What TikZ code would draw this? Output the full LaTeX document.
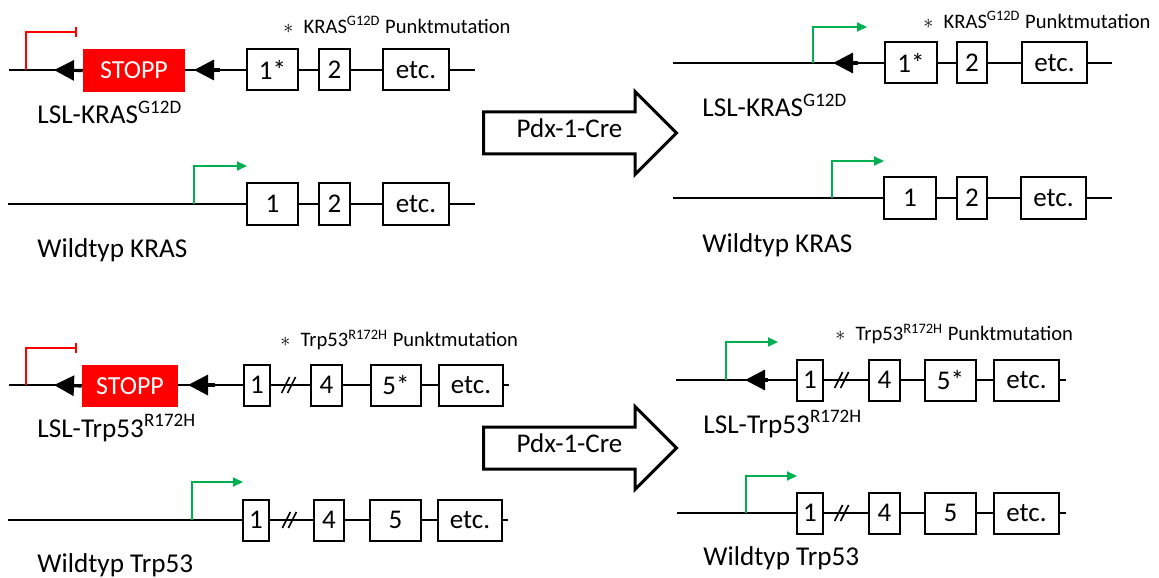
\documentclass[tikz,border=0pt]{standalone}
\usepackage{fontspec}
\setmainfont{Carlito}
\usepackage{xcolor}
\definecolor{stoppred}{HTML}{FF0000}
\definecolor{promgreen}{HTML}{00B050}
\definecolor{dnacolor}{HTML}{000000}
\usepackage{tikz}
\usetikzlibrary{positioning,arrows.meta,shapes.arrows,calc}
\tikzset{
    exon/.style={
        rectangle,
        draw=black,
        fill=white,
        minimum height=20.5pt,
        inner sep=0pt,
        line width=1pt,
        font=\fontsize{13.5}{16}\selectfont,
    },
    stoppbox/.style={
        rectangle,
        fill=stoppred,
        text=white,
        minimum height=21.5pt,
        inner sep=0pt,
        font=\fontsize{13}{15}\selectfont,
    },
    dna/.style={
        line width=1pt,
        dnacolor,
    },
    loxp/.style={
        -{Triangle[length=10pt,width=10pt]},
        line width=1.6pt,
        dnacolor,
    },
    promoter/.style={
        -{Triangle[length=5pt,width=4.5pt]},
        line width=1pt,
        promgreen,
    },
    blocked/.style={
        -{Bar[width=5pt]},
        line width=0.8pt,
        stoppred,
    },
    brk/.style={
        line width=0.8pt,
        dnacolor,
    },
    genelabel/.style={
        anchor=base west,
        inner sep=0pt,
        font=\fontsize{13.6}{16}\selectfont,
    },
    note/.style={
        anchor=west,
        inner sep=0pt,
        font=\fontsize{10.3}{12}\selectfont,
    },
    crearrow/.style={
        single arrow,
        draw=black,
        fill=white,
        line width=1.5pt,
        anchor=tail,
        minimum height=96.5pt,
        single arrow head extend=10.25pt,
        single arrow tip angle=90,
        text height=7pt,
        text depth=2.5pt,
        inner ysep=5pt,
        font=\fontsize{13.5}{16}\selectfont,
    },
}

\begin{document}
\begin{tikzpicture}[x=0.5pt, y=-0.5pt]
    \useasboundingbox (0,0) rectangle (1159,577);

    % LSL-KRAS, vor Cre
    \coordinate (lk0) at (9,70);
    \coordinate (lk9) at (475,70);
    \coordinate (lkprom) at (26,70);
    \coordinate (lkpromend) at (77,32);
    \coordinate (lkloxa) at (54,70);
    \coordinate (lkloxb0) at (220,70);
    \coordinate (lkloxb) at (194,70);
    \draw[dna] (lk0) -- (lk9);
    \draw[blocked] (lkprom) |- (lkpromend);
    \node[stoppbox, minimum width=51pt] (lkstopp) at (134,70.5) {STOPP};
    \draw[loxp] (lkstopp.west) -- (lkloxa);
    \draw[loxp] (lkloxb0) -- (lkloxb);
    \node[exon, minimum width=25.5pt] (lk1) at (272.5,70) {1*};
    \node[exon, minimum width=15.5pt, right=9.5pt of lk1] (lk2) {2};
    \node[exon, minimum width=33pt, right=15.5pt of lk2] (lk3) {etc.};
    \node[note] (lknote) at (283,25) {$\ast$\hspace{0.5em}KRAS\textsuperscript{G12D} Punktmutation};
    \node[genelabel] (lklabel) at (37,124) {LSL-KRAS\textsuperscript{G12D}};

    % Wildtyp KRAS, vor Cre
    \coordinate (wk0) at (8,204);
    \coordinate (wk9) at (475,204);
    \coordinate (wkprom) at (194,204);
    \coordinate (wkpromend) at (247,166);
    \draw[dna] (wk0) -- (wk9);
    \draw[promoter] (wkprom) |- (wkpromend);
    \node[exon, minimum width=25.5pt] (wk1) at (272.5,204) {1};
    \node[exon, minimum width=15.5pt, right=9.5pt of wk1] (wk2) {2};
    \node[exon, minimum width=33pt, right=15.5pt of wk2] (wk3) {etc.};
    \node[genelabel] (wklabel) at (37,257) {Wildtyp KRAS};

    % Cre
    \node[crearrow] (creoben) at (482,133) {Pdx-1-Cre};
    \node[crearrow] (creunten) at (482,448) {Pdx-1-Cre};

    % LSL-KRAS, nach Cre
    \coordinate (rk0) at (673,63);
    \coordinate (rk9) at (1112,63);
    \coordinate (rkprom) at (813,63);
    \coordinate (rkpromend) at (867,27);
    \coordinate (rklox0) at (858,63);
    \coordinate (rklox) at (833,63);
    \draw[dna] (rk0) -- (rk9);
    \draw[promoter] (rkprom) |- (rkpromend);
    \draw[loxp] (rklox0) -- (rklox);
    \node[exon, minimum width=26pt] (rk1) at (911,63) {1*};
    \node[exon, minimum width=15pt, right=9pt of rk1] (rk2) {2};
    \node[exon, minimum width=32.5pt, right=16.5pt of rk2] (rk3) {etc.};
    \node[note] (rknote) at (923,20) {$\ast$\hspace{0.5em}KRAS\textsuperscript{G12D} Punktmutation};
    \node[genelabel] (rklabel) at (702,117) {LSL-KRAS\textsuperscript{G12D}};

    % Wildtyp KRAS, nach Cre
    \coordinate (rwk0) at (673,198);
    \coordinate (rwk9) at (1112,198);
    \coordinate (rwkprom) at (832,198);
    \coordinate (rwkpromend) at (884,161);
    \draw[dna] (rwk0) -- (rwk9);
    \draw[promoter] (rwkprom) |- (rwkpromend);
    \node[exon, minimum width=26pt] (rwk1) at (910,198) {1};
    \node[exon, minimum width=15pt, right=9.5pt of rwk1] (rwk2) {2};
    \node[exon, minimum width=32.5pt, right=16pt of rwk2] (rwk3) {etc.};
    \node[genelabel] (rwklabel) at (702,252) {Wildtyp KRAS};

    % LSL-Trp53, vor Cre
    \coordinate (lt0) at (9,385);
    \coordinate (lt9) at (509,385);
    \coordinate (ltprom) at (26,385);
    \coordinate (ltpromend) at (77,348);
    \coordinate (ltloxa) at (54,385);
    \coordinate (ltloxb0) at (215,385);
    \coordinate (ltloxb) at (188,385);
    \draw[dna] (lt0) -- (lt9);
    \draw[blocked] (ltprom) |- (ltpromend);
    \node[stoppbox, minimum width=48pt, minimum height=21pt] (ltstopp) at (130,386) {STOPP};
    \draw[loxp] (ltstopp.west) -- (ltloxa);
    \draw[loxp] (ltloxb0) -- (ltloxb);
    \node[exon, minimum width=13pt] (lt1) at (257,385) {1};
    \node[exon, minimum width=15.5pt, right=19.5pt of lt1] (lt4) {4};
    \node[exon, minimum width=25pt, right=13.5pt of lt4] (lt5) {5*};
    \node[exon, minimum width=32pt, right=8pt of lt5] (lt6) {etc.};
    \coordinate (ltbrk) at ($(lt1.east)!0.45!(lt4.west)$);
    \draw[brk] ($(ltbrk)+(-7,8)$) -- ++(8,-16) ($(ltbrk)+(-1,8)$) -- ++(8,-16);
    \node[note] (ltnote) at (280,340) {$\ast$\hspace{0.5em}Trp53\textsuperscript{R172H} Punktmutation};
    \node[genelabel] (ltlabel) at (37,437) {LSL-Trp53\textsuperscript{R172H}};

    % Wildtyp Trp53, vor Cre
    \coordinate (wt0) at (8,520);
    \coordinate (wt9) at (508,520);
    \coordinate (wtprom) at (192,520);
    \coordinate (wtpromend) at (243,482);
    \draw[dna] (wt0) -- (wt9);
    \draw[promoter] (wtprom) |- (wtpromend);
    \node[exon, minimum width=13pt] (wt1) at (256,520) {1};
    \node[exon, minimum width=15pt, right=21.5pt of wt1] (wt4) {4};
    \node[exon, minimum width=25.5pt, right=12pt of wt4] (wt5) {5};
    \node[exon, minimum width=32pt, right=7.5pt of wt5] (wt6) {etc.};
    \coordinate (wtbrk) at ($(wt1.east)!0.45!(wt4.west)$);
    \draw[brk] ($(wtbrk)+(-7,8)$) -- ++(8,-16) ($(wtbrk)+(-1,8)$) -- ++(8,-16);
    \node[genelabel] (wtlabel) at (37,572) {Wildtyp Trp53};

    % LSL-Trp53, nach Cre
    \coordinate (rt0) at (676,380);
    \coordinate (rt9) at (1066,380);
    \coordinate (rtprom) at (726,380);
    \coordinate (rtpromend) at (778,342);
    \coordinate (rtlox0) at (768,380);
    \coordinate (rtlox) at (745,380);
    \draw[dna] (rt0) -- (rt9);
    \draw[promoter] (rtprom) |- (rtpromend);
    \draw[loxp] (rtlox0) -- (rtlox);
    \node[exon, minimum width=13pt] (rt1) at (810,380) {1};
    \node[exon, minimum width=15.5pt, right=22pt of rt1] (rt4) {4};
    \node[exon, minimum width=25.5pt, right=11.5pt of rt4] (rt5) {5*};
    \node[exon, minimum width=32.5pt, right=8pt of rt5] (rt6) {etc.};
    \coordinate (rtbrk) at ($(rt1.east)!0.4!(rt4.west)$);
    \draw[brk] ($(rtbrk)+(-7,8)$) -- ++(8,-16) ($(rtbrk)+(-1,8)$) -- ++(8,-16);
    \node[note] (rtnote) at (835,334) {$\ast$\hspace{0.5em}Trp53\textsuperscript{R172H} Punktmutation};
    \node[genelabel] (rtlabel) at (703,433) {LSL-Trp53\textsuperscript{R172H}};

    % Wildtyp Trp53, nach Cre
    \coordinate (rwt0) at (677,513);
    \coordinate (rwt9) at (1066,513);
    \coordinate (rwtprom) at (746,513);
    \coordinate (rwtpromend) at (797,476);
    \draw[dna] (rwt0) -- (rwt9);
    \draw[promoter] (rwtprom) |- (rwtpromend);
    \node[exon, minimum width=13pt] (rwt1) at (810,513) {1};
    \node[exon, minimum width=15.5pt, right=22pt of rwt1] (rwt4) {4};
    \node[exon, minimum width=25.5pt, right=11.5pt of rwt4] (rwt5) {5};
    \node[exon, minimum width=32.5pt, right=8pt of rwt5] (rwt6) {etc.};
    \coordinate (rwtbrk) at ($(rwt1.east)!0.4!(rwt4.west)$);
    \draw[brk] ($(rwtbrk)+(-7,8)$) -- ++(8,-16) ($(rwtbrk)+(-1,8)$) -- ++(8,-16);
    \node[genelabel] (rwtlabel) at (703,565) {Wildtyp Trp53};

\end{tikzpicture}
\end{document}
